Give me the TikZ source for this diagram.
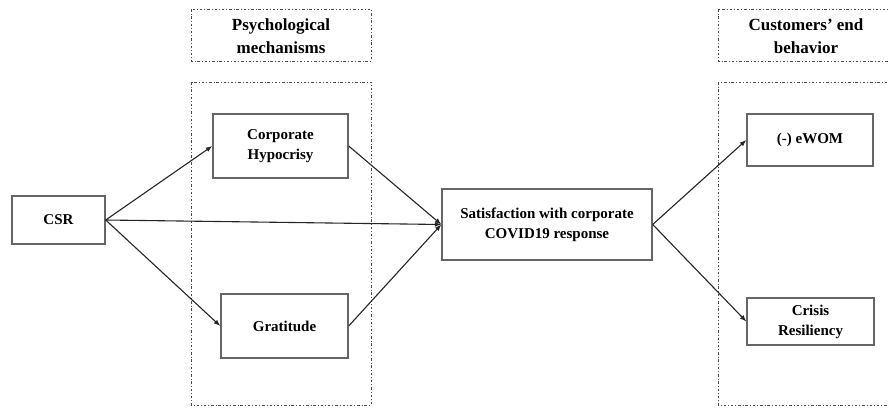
\documentclass[tikz,border=0pt]{standalone}
\usepackage{fontspec}
\setmainfont{Liberation Serif}
\usetikzlibrary{arrows.meta}
\begin{document}
\begin{tikzpicture}[x=1pt,y=-1pt,
  groupbox/.style={draw=black!70, line width=0.9pt, dash pattern=on 2.5pt off 2pt on 0.8pt off 2pt},
  varbox/.style={draw=black!60, line width=1.4pt, fill=white, inner sep=0pt, align=center,
    font=\fontsize{15}{20}\selectfont\bfseries},
  headtext/.style={inner sep=0pt, align=center, font=\fontsize{17}{22.5}\selectfont\bfseries},
  link/.style={draw=black!85, line width=1.1pt, -{Latex[length=6.5pt,width=5pt]}}
]
\clip (0,0) rectangle (889,408);
\fill[white] (0,0) rectangle (889,408);

% group boxes
\draw[groupbox] (191,9) rectangle (371,61);
\draw[groupbox] (191,82) rectangle (371,405);
\draw[groupbox] (718,9) rectangle (892,61);
\draw[groupbox] (718,82) rectangle (892,405);

\node[headtext] (h1) at (281,36) {Psychological\\mechanisms};
\node[headtext] (h2) at (806,36) {Customers' end\\behavior};

% variable boxes
\node[varbox, minimum width=93pt, minimum height=48pt] (csr) at (58.5,220) {CSR};
\node[varbox, minimum width=135pt, minimum height=64pt] (hyp) at (280.5,146) {Corporate\\Hypocrisy};
\node[varbox, minimum width=127pt, minimum height=64pt] (gra) at (284.5,326) {Gratitude};
\node[varbox, minimum width=210pt, minimum height=71pt] (sat) at (547,224.5) {Satisfaction with corporate\\COVID19 response};
\node[varbox, minimum width=126pt, minimum height=52pt] (ewom) at (810,140) {(-) eWOM};
\node[varbox, minimum width=127pt, minimum height=47pt] (cri) at (810.5,321.5) {Crisis\\Resiliency};

% connectors
\draw[link] (csr.east) -- (hyp.west);
\draw[link] (csr.east) -- (gra.west);
\draw[link] (csr.east) -- (sat.west);
\draw[link] (hyp.east) -- (sat.west);
\draw[link] (gra.east) -- (sat.west);
\draw[link] (sat.east) -- (ewom.west);
\draw[link] (sat.east) -- (cri.west);
\end{tikzpicture}
\end{document}
